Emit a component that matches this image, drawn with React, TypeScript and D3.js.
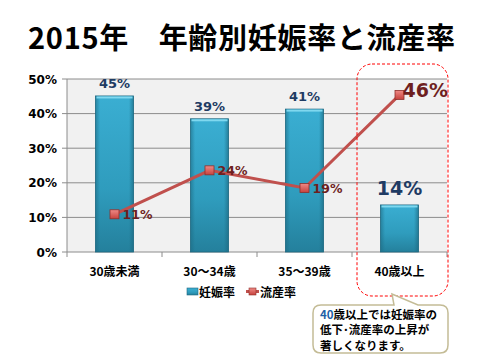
import React from 'react'
import * as d3 from 'd3'

const categories = ['30歳未満', '30〜34歳', '35〜39歳', '40歳以上']
const pregnancyRate = [45.1, 38.5, 41.3, 13.6]
const pregnancyLabels = ['45%', '39%', '41%', '14%']
const miscarriageRate = [10.9, 23.6, 18.5, 45.4]
const miscarriageLabels = ['11%', '24%', '19%', '46%']
const yTicks = [0, 10, 20, 30, 40, 50]

const JP = '"Noto Sans CJK JP", sans-serif'
const NUM = '"DejaVu Sans", Verdana, sans-serif'

export default function App() {
  const width = 480
  const height = 360
  const plot = { left: 67, right: 447, top: 79, bottom: 252 }

  const x = d3.scaleBand().domain(categories).range([plot.left, plot.right]).padding(0)
  const y = d3.scaleLinear().domain([0, 50]).range([plot.bottom, plot.top])
  const barW = 38
  const cx = (c: string) => (x(c) as number) + x.bandwidth() / 2

  const line = d3
    .line<number>()
    .x((_, i) => cx(categories[i]))
    .y(d => y(d))

  return (
    <svg width={width} height={height} style={{ position: 'absolute', left: 0, top: 0, background: '#fff' }}>
      <defs>
        <linearGradient id="barGrad" x1="0" y1="0" x2="0" y2="1">
          <stop offset="0" stopColor="#3aaed2" />
          <stop offset="0.6" stopColor="#2f9cbd" />
          <stop offset="1" stopColor="#24809c" />
        </linearGradient>
        <linearGradient id="barSide" x1="0" y1="0" x2="1" y2="0">
          <stop offset="0" stopColor="#1d6a82" stopOpacity="0.6" />
          <stop offset="0.12" stopColor="#1d6a82" stopOpacity="0" />
          <stop offset="0.88" stopColor="#1d6a82" stopOpacity="0" />
          <stop offset="1" stopColor="#1d6a82" stopOpacity="0.7" />
        </linearGradient>
        <linearGradient id="markGrad" x1="0" y1="0" x2="0" y2="1">
          <stop offset="0" stopColor="#ef8a86" />
          <stop offset="1" stopColor="#c6423d" />
        </linearGradient>
      </defs>

      {/* title */}
      <text x={28} y={49} fontFamily={JP} fontWeight="bold" fontSize={29} fill="#000" textLength={427} lengthAdjust="spacing">
        2015年　年齢別妊娠率と流産率
      </text>

      {/* plot background */}
      <rect x={plot.left} y={plot.top} width={plot.right - plot.left} height={plot.bottom - plot.top} fill="#f1f1f1" />

      {/* gridlines */}
      {yTicks.map(t => (
        <line key={t} x1={plot.left} x2={plot.right} y1={y(t)} y2={y(t)} stroke="#8c8c8c" strokeWidth={1} />
      ))}
      {/* axes */}
      <line x1={plot.left} x2={plot.left} y1={plot.top} y2={plot.bottom} stroke="#8c8c8c" />
      {yTicks.map(t => (
        <line key={'t' + t} x1={plot.left - 5} x2={plot.left} y1={y(t)} y2={y(t)} stroke="#8c8c8c" />
      ))}
      {categories.map(c => (
        <line key={'xt' + c} x1={x(c)} x2={x(c)} y1={plot.bottom} y2={plot.bottom + 5} stroke="#8c8c8c" />
      ))}
      <line x1={plot.right} x2={plot.right} y1={plot.bottom} y2={plot.bottom + 5} stroke="#8c8c8c" />

      {/* y tick labels */}
      {yTicks.map(t => (
        <text key={'yl' + t} x={57} y={y(t) + 4.5} textAnchor="end" fontFamily={NUM} fontWeight="bold" fontSize={12} fill="#000">
          {t}%
        </text>
      ))}

      {/* bars */}
      {categories.map((c, i) => {
        const bx = cx(c) - barW / 2
        const by = y(pregnancyRate[i])
        const bh = plot.bottom - by
        return (
          <g key={'b' + c}>
            <rect x={bx} y={by} width={barW} height={bh} fill="url(#barGrad)" stroke="#1f6880" strokeWidth={0.8} />
            <rect x={bx} y={by} width={barW} height={bh} fill="url(#barSide)" />
            <rect x={bx + 1} y={by + 0.5} width={barW - 2} height={2} fill="#7fd8ef" />
          </g>
        )
      })}

      {/* bar labels */}
      {categories.map((c, i) => {
        const big = i === 3
        return (
          <text
            key={'bl' + c}
            x={cx(c)}
            y={y(pregnancyRate[i]) - (big ? 10 : 8)}
            textAnchor="middle"
            fontFamily={NUM}
            fontWeight="bold"
            fontSize={big ? 19 : 13}
            fill="#1f3b63"
          >
            {pregnancyLabels[i]}
          </text>
        )
      })}

      {/* miscarriage line */}
      <path d={line(miscarriageRate) || ''} fill="none" stroke="#c0504d" strokeWidth={3} />
      {categories.map((c, i) => (
        <rect
          key={'m' + c}
          x={cx(c) - 4.5}
          y={y(miscarriageRate[i]) - 4.5}
          width={9}
          height={9}
          fill="url(#markGrad)"
          stroke="#8e2f2b"
          strokeWidth={0.8}
        />
      ))}
      {categories.map((c, i) => {
        const big = i === 3
        return (
          <text
            key={'ml' + c}
            x={cx(c) + (big ? 3 : 8)}
            y={y(miscarriageRate[i]) + (big ? 2 : 5)}
            fontFamily={NUM}
            fontWeight="bold"
            fontSize={big ? 19 : 12.5}
            fill="#6e1f1f"
          >
            {miscarriageLabels[i]}
          </text>
        )
      })}

      {/* x labels */}
      {categories.map(c => (
        <text key={'xl' + c} x={cx(c)} y={276} textAnchor="middle" fontFamily={JP} fontWeight="bold" fontSize={12} fill="#000">
          {c}
        </text>
      ))}

      {/* legend */}
      <rect x={187} y={288} width={11} height={7} fill="url(#barGrad)" stroke="#1f6880" strokeWidth={0.6} />
      <text x={199} y={297} fontFamily={JP} fontWeight="bold" fontSize={12} fill="#000">妊娠率</text>
      <line x1={246} x2={259} y1={291.5} y2={291.5} stroke="#c0504d" strokeWidth={3} />
      <rect x={249} y={288} width={7} height={7} fill="url(#markGrad)" stroke="#8e2f2b" strokeWidth={0.6} />
      <text x={260} y={297} fontFamily={JP} fontWeight="bold" fontSize={12} fill="#000">流産率</text>

      {/* highlight box */}
      <rect x={357} y={64} width={91} height={232} rx={15} ry={15} fill="none" stroke="#ff0000" strokeWidth={1} strokeDasharray="3,2" />

      {/* callout */}
      <path
        d="M 327 305 L 394 305 L 392 294 L 418 305 L 440 305 Q 448 305 448 313 L 448 345 Q 448 353 440 353 L 321 353 Q 313 353 313 345 L 313 313 Q 313 305 321 305 Z"
        fill="#fff"
        stroke="#c4bc96"
        strokeWidth={1.5}
      />
      <text x={320} y={318.5} fontFamily={JP} fontWeight="bold" fontSize={11.5} fill="#000">
        <tspan fill="#1f5fa8">40</tspan>歳以上では妊娠率の
      </text>
      <text x={320} y={334} fontFamily={JP} fontWeight="bold" fontSize={11.5} fill="#000">
        低下･流産率の上昇が
      </text>
      <text x={320} y={349.5} fontFamily={JP} fontWeight="bold" fontSize={11.5} fill="#000">
        著しくなります。
      </text>
    </svg>
  )
}
